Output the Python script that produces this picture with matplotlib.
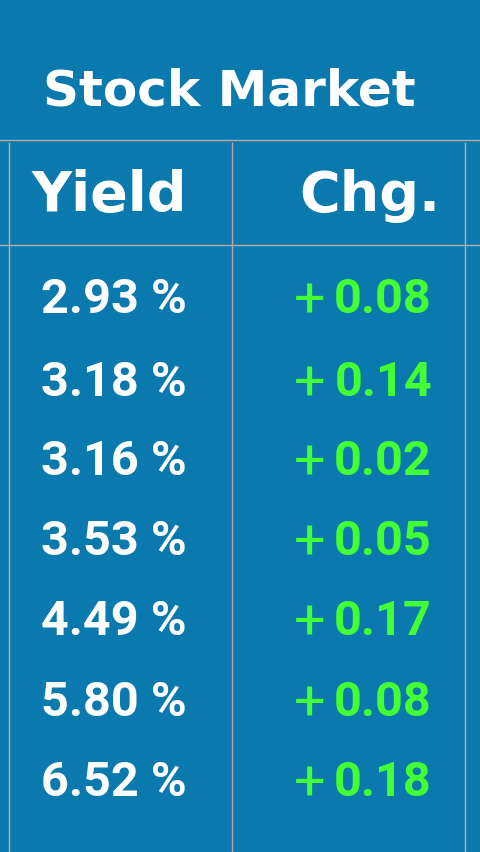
import matplotlib
matplotlib.use("Agg")
import matplotlib.pyplot as plt
from matplotlib.lines import Line2D

title = "Stock Market"
headers = ["Yield", "Chg."]
yields = ["2.93", "3.18", "3.16", "3.53", "4.49", "5.80", "6.52"]
changes = ["0.08", "0.14", "0.02", "0.05", "0.17", "0.08", "0.18"]

W, H = 480, 853
bg = "#0a79ad"
fig = plt.figure(figsize=(4.8, 8.53), dpi=100, facecolor=bg)
ax = fig.add_axes([0, 0, 1, 1])
ax.set_xlim(0, W); ax.set_ylim(H, 0); ax.axis("off")
ax.set_facecolor(bg)

lc = "#b9a9a9"
ax.add_line(Line2D([0, W], [141, 141], color=lc, lw=1))
ax.add_line(Line2D([0, W], [246, 246], color=lc, lw=1))
for x in (9, 232, 465):
    ax.add_line(Line2D([x, x], [144, H], color=lc, lw=1))

ax.text(229, 91, title, color="white", fontsize=36, fontweight="bold",
        ha="center", va="center", family=["DejaVu Sans"])
ax.text(187, 196, headers[0], color="white", fontsize=40, fontweight="bold",
        ha="right", va="center", family=["DejaVu Sans"])
ax.text(440, 196, headers[1], color="white", fontsize=40, fontweight="bold",
        ha="right", va="center", family=["DejaVu Sans"])

fam = ["Roboto", "DejaVu Sans"]
ys = [300, 383, 462, 542, 622, 703, 783]
green = "#44ff33"
for y, v, c in zip(ys, yields, changes):
    ax.text(187, y, f"{v} %", color="white", fontsize=35, ha="right", va="center",
            family=fam, fontweight="bold")
    ax.text(432, y, c, color=green, fontsize=35, ha="right", va="center",
            family=fam, fontweight="bold")
    ax.text(310, y + 2, "+", color=green, fontsize=40, ha="center", va="center",
            family=fam)

fig.savefig("out.png", dpi=100, facecolor=bg)
